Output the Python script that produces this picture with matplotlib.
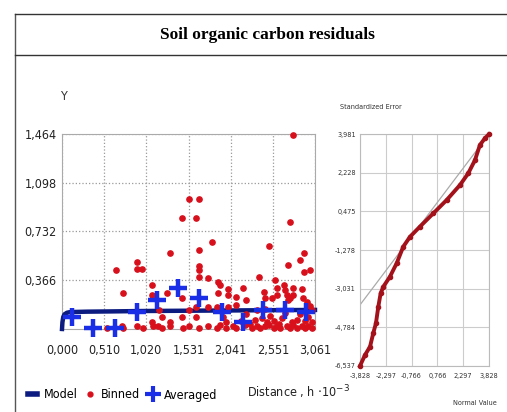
import matplotlib
matplotlib.use("Agg")
import matplotlib.pyplot as plt
from matplotlib.lines import Line2D

# ---- semivariogram (left) ----
model_x = [0.0, 0.005, 0.015, 0.03, 0.06, 0.1, 0.3, 0.6, 1.0, 1.5, 2.0, 2.5, 3.061]
model_y = [0.0, 0.05, 0.09, 0.11, 0.122, 0.127, 0.130, 0.132, 0.135, 0.137, 0.139, 0.141, 0.143]

avg_x = [0.12, 0.375, 0.64, 0.907, 1.15, 1.40, 1.66, 1.94, 2.19, 2.43, 2.70, 2.95]
avg_y = [0.09, 0.008, 0.01, 0.128, 0.218, 0.308, 0.233, 0.128, 0.053, 0.143, 0.143, 0.128]

binned_x = [0.65, 0.74, 0.91, 0.91, 0.97, 1.09, 1.09, 1.27, 1.31, 1.45, 1.54, 1.62, 1.66,
            1.81, 1.66, 1.66, 1.66, 1.66, 1.45, 1.77, 1.89, 1.91, 1.89, 2.01, 2.01, 2.11,
            2.19, 2.23, 2.38, 2.44, 2.46, 2.51, 2.54, 2.58, 2.60, 2.60, 2.68, 2.70, 2.72,
            2.74, 2.76, 2.74, 2.76, 2.80, 2.80, 2.80, 2.88, 2.93, 2.93, 3.00, 2.90, 2.92,
            2.96, 3.00, 3.03,
            1.09, 1.31, 1.45, 1.54, 1.62, 1.62, 1.77, 1.87, 2.01, 1.95, 1.99, 2.11, 2.17,
            2.27, 2.33, 2.42, 2.48, 2.52, 2.56, 2.62, 2.66, 2.78, 2.84, 2.94, 2.98, 3.02,
            2.70, 2.88, 2.23, 2.36, 2.46, 1.21, 1.17,
            0.54, 0.72, 0.74, 0.91, 0.98, 1.10, 1.16, 1.21, 1.31, 1.46, 1.54, 1.66, 1.77,
            1.87, 1.91, 1.99, 2.07, 2.11, 2.21, 2.30, 2.36, 2.40, 2.46, 2.50, 2.56, 2.60,
            2.64, 2.72, 2.76, 2.80, 2.84, 2.90, 2.94, 2.98, 3.02]
binned_y = [0.44, 0.27, 0.505, 0.45, 0.45, 0.33, 0.255, 0.27, 0.57, 0.83, 0.975, 0.83, 0.975,
            0.655, 0.59, 0.47, 0.44, 0.39, 0.23, 0.38, 0.355, 0.33, 0.27, 0.30, 0.255, 0.243,
            0.305, 0.218, 0.39, 0.28, 0.23, 0.62, 0.23, 0.37, 0.305, 0.255, 0.33, 0.29, 0.255,
            0.22, 0.23, 0.48, 0.805, 1.457, 0.31, 0.255, 0.52, 0.57, 0.43, 0.44, 0.30, 0.23,
            0.20, 0.17, 0.14,
            0.055, 0.055, 0.09, 0.143, 0.167, 0.092, 0.167, 0.167, 0.167, 0.09, 0.055, 0.18, 0.06,
            0.04, 0.07, 0.08, 0.05, 0.10, 0.06, 0.04, 0.08, 0.05, 0.07, 0.06, 0.09, 0.05,
            0.12, 0.11, 0.11, 0.14, 0.15, 0.09, 0.14,
            0.01, 0.02, 0.01, 0.02, 0.01, 0.02, 0.02, 0.01, 0.02, 0.01, 0.02, 0.01, 0.02,
            0.01, 0.03, 0.01, 0.02, 0.01, 0.03, 0.01, 0.02, 0.01, 0.02, 0.03, 0.01, 0.02,
            0.01, 0.02, 0.01, 0.03, 0.01, 0.02, 0.01, 0.02, 0.01]

x_ticks = [0.0, 0.510, 1.020, 1.531, 2.041, 2.551, 3.061]
x_labels = ["0,000", "0,510", "1,020", "1,531", "2,041", "2,551", "3,061"]
y_ticks = [0.366, 0.732, 1.098, 1.464]
y_labels = ["0,366", "0,732", "1,098", "1,464"]

# ---- normal QQ plot (right) ----
qq_x = [-3.828, -3.53, -3.23, -3.04, -2.88, -2.74, -2.60, -2.44, -2.05, -1.65, -1.26,
        -0.86, -0.27, 0.52, 1.32, 2.11, 2.60, 3.0, 3.29, 3.59, 3.828]
qq_y = [-6.537, -6.04, -5.66, -5.05, -4.60, -3.85, -3.24, -2.94, -2.49, -1.88, -1.13,
        -0.68, -0.22, 0.38, 0.99, 1.67, 2.20, 2.80, 3.48, 3.79, 3.97]
ref_x = [-3.828, 3.828]
ref_y = [-3.77, 3.98]

qq_xticks = [-3.828, -2.297, -0.766, 0.766, 2.297, 3.828]
qq_xlabels = ["-3,828", "-2,297", "-0,766", "0,766", "2,297", "3,828"]
qq_yticks = [-6.537, -4.784, -3.031, -1.278, 0.475, 2.228, 3.981]
qq_ylabels = ["-6,537", "-4,784", "-3,031", "-1,278", "0,475", "2,228", "3,981"]

NAVY = "#0b1b80"
RED = "#d8101c"
BLUE = "#1a2ee8"


def narrow(size):
    return {"family": "DejaVu Sans", "stretch": "condensed", "size": size}


def main():
    fig = plt.figure(figsize=(5.07, 4.12), dpi=100)

    # frame and title box
    fig.add_artist(Line2D([0.0296, 0.0296], [0.0, 0.966], color="#555555", lw=1))
    fig.add_artist(Line2D([0.0296, 1.0], [0.966, 0.966], color="#333333", lw=1))
    fig.add_artist(Line2D([0.0296, 1.0], [0.8665, 0.8665], color="#333333", lw=1))
    fig.text(0.527, 0.915, "Soil organic carbon residuals", ha="center", va="center",
             family=["Liberation Serif", "DejaVu Serif"], fontweight="bold", fontsize=12.5)

    # semivariogram
    ax = fig.add_axes([0.1223, 0.2015, 0.499, 0.4733])
    ax.plot(model_x, model_y, color=NAVY, lw=3.2, zorder=3, clip_on=False)
    ax.plot(binned_x, binned_y, "o", color=RED, ms=3.8, zorder=4, clip_on=False)
    ax.plot(avg_x, avg_y, "+", color=BLUE, ms=13, mew=3.2, zorder=5, clip_on=False)
    ax.set_xlim(0, 3.061)
    ax.set_ylim(0, 1.464)
    ax.set_xticks(x_ticks)
    ax.set_xticklabels(x_labels, **narrow(9))
    ax.set_yticks(y_ticks)
    ax.set_yticklabels(y_labels, **narrow(9))
    ax.tick_params(axis="x", length=0, pad=11, colors="#222222")
    ax.tick_params(axis="y", length=0, pad=4, colors="#222222")
    ax.grid(True, color="#999999", ls=":", lw=0.9)
    for s in ax.spines.values():
        s.set_color("#aaaaaa")
    fig.text(63 / 507, 1 - 97 / 412, "Y", ha="center", va="center", color="#333333",
             **narrow(9))

    # legend
    handles = [Line2D([], [], color=NAVY, lw=4),
               Line2D([], [], ls="", marker="o", color=RED, ms=3.5),
               Line2D([], [], ls="", marker="+", color=BLUE, ms=11, mew=3)]
    fig.legend(handles, ["Model", "Binned", "Averaged"], loc="center left",
               bbox_to_anchor=(0.056, 1 - 395 / 412), ncol=3, frameon=False,
               prop=narrow(9), handlelength=0.7, handletextpad=0.5,
               columnspacing=0.7, borderaxespad=0, borderpad=0)
    fig.text(247 / 507, 1 - 392 / 412, r"Distance , h $\cdot$10$^{-3}$",
             ha="left", va="center", color="#222222", **narrow(9))

    # QQ plot
    ax2 = fig.add_axes([0.710, 0.1117, 0.2544, 0.563])
    ax2.plot(ref_x, ref_y, color="#aaaaaa", lw=0.9, zorder=2)
    ax2.plot(qq_x, qq_y, "-o", color="#a3121a", lw=2.8, ms=3, zorder=3, clip_on=False)
    ax2.set_xlim(-3.828, 3.828)
    ax2.set_ylim(-6.537, 3.981)
    ax2.set_xticks(qq_xticks)
    ax2.set_xticklabels(qq_xlabels, **narrow(5.2))
    ax2.set_yticks(qq_yticks)
    ax2.set_yticklabels(qq_ylabels, **narrow(5.2))
    ax2.tick_params(axis="x", length=0, pad=5, colors="#333333")
    ax2.tick_params(axis="y", length=0, pad=3, colors="#333333")
    ax2.grid(True, color="#cccccc", lw=0.8)
    for s in ax2.spines.values():
        s.set_color("#bbbbbb")
    fig.text(340 / 507, 1 - 107 / 412, "Standardized Error", ha="left", va="center",
             color="#333333", **narrow(5.2))
    fig.text(497 / 507, 1 - 403 / 412, "Normal Value", ha="right", va="center",
             color="#333333", **narrow(5.2))

    fig.savefig("out.png", dpi=100)


if __name__ == "__main__":
    main()
